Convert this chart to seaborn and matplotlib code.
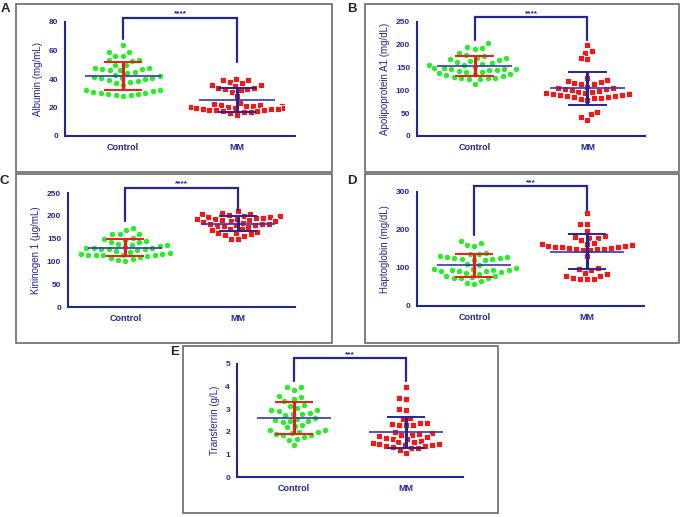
import numpy as np
import pandas as pd
import matplotlib
matplotlib.use('Agg')
import matplotlib.pyplot as plt
from matplotlib.patches import Rectangle
import seaborn as sns

# ── Data ─────────────────────────────────────────────────────────────────────
GROUPS = ['Control', 'MM']

albumin_control = [64, 59, 59, 56, 56, 53, 53, 52.5, 50, 49.5, 48, 48, 47, 46.5, 47, 46,
                   45, 44.5, 42, 42.5, 41.5, 41, 40.5, 41, 40, 39, 38.5, 38, 37, 36, 32, 32.5,
                   31, 31.5, 30, 30.5, 29.5, 29, 29.5, 28, 28.5]
albumin_mm = [40, 39, 39, 38, 37, 36, 36, 35, 34, 34, 33, 33, 32, 31, 28, 23, 22.5,
              22, 21.6, 21.3, 21, 20.8, 20.5, 20.2, 20, 19.8, 19.5, 19.2, 19, 18.8,
              18.5, 18.2, 18, 17.6, 17.2, 17, 16.5, 16, 15]

apoa1_control = [203, 195, 192, 190, 183, 178, 175, 172, 170, 168, 166, 165, 163,
                 160, 158, 156, 155, 152, 150, 150, 148, 147, 146, 145, 145, 143,
                 141, 140, 138, 137, 136, 134, 132, 130, 128, 128, 127, 125, 125, 115]
apoa1_mm = [200, 187, 182, 170, 168, 128, 122, 120, 118, 117, 115, 113, 108, 106,
            105, 104, 103, 100, 98, 97, 96, 95, 94, 93, 92, 90, 89, 88, 87, 86, 85,
            84, 83, 82, 80, 53, 48, 42, 35]

kng1_control = [174, 168, 161, 160, 159, 152, 150, 148, 145, 143, 142, 138, 136,
                135, 133, 131, 130, 130, 129, 128, 128, 127, 125, 122, 120, 119,
                118, 117, 116, 115, 114, 114, 113, 113, 112, 110, 108, 105, 103, 100]
kng1_mm = [210, 207, 205, 203, 202, 200, 199, 198, 197, 196, 195, 194, 193, 192,
           191, 190, 189, 188, 186, 185, 183, 182, 181, 180, 179, 178, 177, 175,
           172, 170, 168, 165, 163, 162, 160, 158, 156, 150, 149]

hp_control = [172, 166, 160, 158, 140, 138, 136, 132, 130, 128, 127, 126, 125, 124,
              122, 120, 110, 108, 100, 98, 97, 96, 95, 94, 93, 92, 91, 90, 88, 85,
              80, 78, 76, 75, 74, 73, 65, 60, 58]
hp_mm = [245, 217, 215, 197, 183, 182, 180, 179, 175, 166, 164, 162, 160, 158, 157,
         156, 155, 154, 153, 152, 151, 150, 149, 148, 147, 132, 100, 97, 96, 87, 85,
         80, 78, 74, 72, 71, 70]

tf_control = [4.0, 4.0, 3.85, 3.6, 3.55, 3.45, 3.35, 3.2, 3.15, 3.05, 2.97, 2.95,
              2.93, 2.85, 2.8, 2.78, 2.75, 2.6, 2.55, 2.52, 2.5, 2.48, 2.45, 2.3,
              2.25, 2.2, 2.1, 2.08, 2.0, 1.98, 1.95, 1.9, 1.88, 1.85, 1.75, 1.7,
              1.65, 1.4]
tf_mm = [4.0, 3.5, 3.45, 3.0, 2.98, 2.6, 2.55, 2.4, 2.38, 2.35, 2.32, 2.3, 2.28,
         2.0, 1.95, 1.9, 1.88, 1.85, 1.8, 1.75, 1.72, 1.7, 1.68, 1.6, 1.55, 1.53,
         1.5, 1.48, 1.45, 1.42, 1.4, 1.38, 1.35, 1.32, 1.3, 1.28, 1.2, 1.08]

panel_letters = ['A', 'B', 'C', 'D', 'E']
y_labels = ['Albumin (mg/mL)', 'Apolipoprotein A1 (mg/dL)', 'Kininogen 1 (\u00b5g/mL)',
            'Haptoglobin (mg/dL)', 'Transferrin (g/L)']
y_ticks = [[0, 20, 40, 60, 80], [0, 50, 100, 150, 200, 250], [0, 50, 100, 150, 200, 250],
           [0, 100, 200, 300], [0, 1, 2, 3, 4, 5]]
significance = ['****', '****', '****', '***', '***']
controls = [albumin_control, apoa1_control, kng1_control, hp_control, tf_control]
mms = [albumin_mm, apoa1_mm, kng1_mm, hp_mm, tf_mm]

# ── Layout / style ───────────────────────────────────────────────────────────
W, H = 683, 517
NAVY = '#262690'
BLUE = '#3535B5'
GREEN = '#2EEA2E'
RED = '#F01818'
FRAME = '#6a6a6a'

# axes rect in pixels: left, right, top, bottom
AX_PX = [(65, 295, 22, 136), (417, 645, 22, 136), (68, 295, 193, 307),
         (417, 644, 192, 306), (237, 463, 364, 477)]
# frame boxes in pixels: left, right, top, bottom
BOX_PX = [(16, 332, 4, 172), (365, 679, 4, 172), (16, 332, 174, 343),
          (365, 679, 174, 343), (183, 498, 346, 513)]
LETTER_PX = [(5, 9), (352, 9), (4, 181), (352, 181), (175, 352)]
# bracket: left leg end, top, right leg end (data units)
BRACKETS = [(68, 83, 52), (211, 261, 211), (189, 262, 212), (187, 315, 252),
            (4.25, 5.25, 4.25)]


def px_rect(left, right, top, bottom):
    return [left / W, 1 - bottom / H, (right - left) / W, (bottom - top) / H]


def draw_panel(fig, i):
    ax = fig.add_axes(px_rect(*AX_PX[i]))
    c, m = controls[i], mms[i]
    df = pd.DataFrame({'group': ['Control'] * len(c) + ['MM'] * len(m),
                       'value': c + m})
    # thin white edges leave small gaps between the packed dots
    sns.swarmplot(data=df[df.group == 'Control'], x='group', y='value', order=GROUPS,
                  color=GREEN, marker='o', size=4.6, edgecolor='white',
                  linewidth=0.6, ax=ax, zorder=2, warn_thresh=1)
    sns.swarmplot(data=df[df.group == 'MM'], x='group', y='value', order=GROUPS,
                  color=RED, marker='s', size=4.2, edgecolor='white',
                  linewidth=0.6, ax=ax, zorder=2, warn_thresh=1)

    for k, (vals, sd_col) in enumerate([(c, RED), (m, NAVY)]):
        mu, sd = np.mean(vals), np.std(vals, ddof=1)
        ax.hlines(mu, k - 0.33, k + 0.33, color=BLUE, lw=1.2, zorder=4)
        ax.vlines(k, mu - sd, mu + sd, color=sd_col, lw=2.2, zorder=4)
        ax.hlines([mu - sd, mu + sd], k - 0.17, k + 0.17, color=sd_col, lw=1.4, zorder=4)

    lo, top, hi = BRACKETS[i]
    ax.plot([0, 0, 1, 1], [lo, top, top, hi], color=NAVY, lw=1.6,
            clip_on=False, solid_joinstyle='miter')
    ax.text(0.5, top, significance[i], ha='center', va='bottom', color=NAVY,
            fontsize=6, fontweight='bold', family='Liberation Sans')

    ax.set_xlim(-0.51, 1.51)
    ax.set_ylim(0, y_ticks[i][-1])
    ax.set_yticks(y_ticks[i])
    ax.set_xticks([0, 1])
    ax.set_xticklabels(GROUPS)
    ax.set_xlabel('')
    ax.set_ylabel(y_labels[i], color=NAVY, fontsize=7, family='Liberation Sans',
                  labelpad=4)
    for s in ('top', 'right'):
        ax.spines[s].set_visible(False)
    for s in ('left', 'bottom'):
        ax.spines[s].set_color(NAVY)
        ax.spines[s].set_linewidth(1.5)
    ax.tick_params(colors=NAVY, width=1.3, length=3, pad=2)
    for lab in ax.get_yticklabels():
        lab.set_fontsize(6)
        lab.set_fontweight('bold')
        lab.set_family('Liberation Sans')
    for lab in ax.get_xticklabels():
        lab.set_fontsize(6.5)
        lab.set_fontweight('bold')
        lab.set_family('Liberation Sans')
    ax.set_facecolor('none')
    ax.grid(False)

    l, r, t, b = BOX_PX[i]
    fig.add_artist(Rectangle((l / W, 1 - b / H), (r - l) / W, (b - t) / H,
                             transform=fig.transFigure, fill=False,
                             ec=FRAME, lw=1.2))
    lx, ly = LETTER_PX[i]
    fig.text(lx / W, 1 - ly / H, panel_letters[i], ha='center', va='center',
             fontsize=9.5, fontweight='bold', family='Liberation Sans')
    return ax


def main():
    sns.set_style('white')
    fig = plt.figure(figsize=(W / 100, H / 100), dpi=100)
    for i in range(5):
        draw_panel(fig, i)
    fig.savefig('out.png', dpi=100)
    plt.close(fig)


if __name__ == '__main__':
    main()
